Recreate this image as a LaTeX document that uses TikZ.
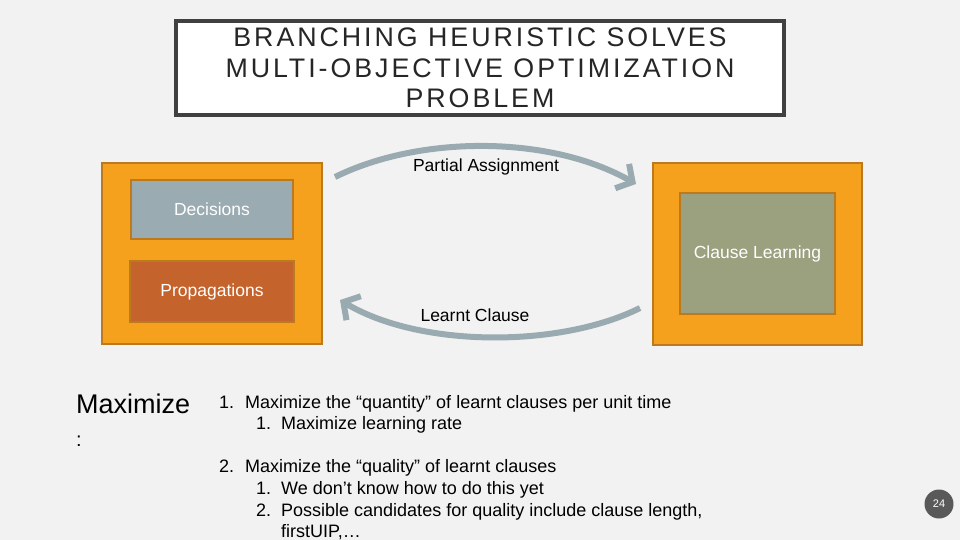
\documentclass[tikz,border=0pt]{standalone}
\usepackage{fontspec}
\setmainfont{Liberation Sans}
\newfontfamily\titlefont[LetterSpace=11]{Liberation Sans}
\usetikzlibrary{arrows.meta}
\definecolor{bgc}{HTML}{F2F2F2}
\definecolor{orangec}{HTML}{F5A11D}
\definecolor{orangeb}{HTML}{BC7A1E}
\definecolor{decc}{HTML}{9AABB2}
\definecolor{propc}{HTML}{C5632C}
\definecolor{clc}{HTML}{9BA07F}
\definecolor{arrowc}{HTML}{9AAAB1}
\definecolor{titleb}{HTML}{404040}
\definecolor{pgc}{HTML}{595959}
\tikzset{
  outerbox/.style={draw=orangeb, line width=1.6pt, fill=orangec, inner sep=0pt},
  innerbox/.style={draw=orangeb, line width=1.6pt, inner sep=0pt, text=white,
    font=\fontsize{17.5}{20}\selectfont},
  flow/.style={draw=arrowc, line width=6pt, -{Straight Barb[length=12pt,width=28pt]}},
  lbl/.style={inner sep=0pt, font=\fontsize{17.5}{20}\selectfont, text=black},
  lst/.style={inner sep=0pt, anchor=base west, font=\fontsize{18}{21}\selectfont, text=black},
}
\begin{document}
\begin{tikzpicture}[x=1pt,y=-1pt]
\fill[bgc] (0,0) rectangle (960,540);
\useasboundingbox (0,0) rectangle (960,540);

% title
\node[draw=titleb, line width=4pt, fill=white, minimum width=608pt, minimum height=94pt,
  inner sep=0pt, align=center, font=\titlefont\fontsize{26.8}{30.5}\selectfont, text=black!85]
  (title) at (480,68) {BRANCHING HEURISTIC SOLVES\\MULTI-OBJECTIVE OPTIMIZATION\\PROBLEM};

% left block
\node[outerbox, minimum width=220pt, minimum height=181pt] (left) at (212,253.5) {};
\node[innerbox, fill=decc, minimum width=162pt, minimum height=59pt] (dec) at (212,209.5) {Decisions};
\node[innerbox, fill=propc, minimum width=164pt, minimum height=61pt] (prop) at (212,291.5) {Propagations};

% right block
\node[outerbox, minimum width=209pt, minimum height=182pt] (right) at (757.5,254) {};
\node[innerbox, fill=clc, minimum width=155pt, minimum height=121pt] (cl) at (757.5,253.5) {Clause Learning};

% arrows
\coordinate (pas) at (335,177);
\coordinate (pae) at (636,184);
\draw[flow] (pas) .. controls (420,135) and (550,135) .. (pae);
\node[lbl] (palbl) at (486,167) {Partial Assignment};

\coordinate (lcs) at (640,308);
\coordinate (lce) at (340,300);
\draw[flow] (lcs) .. controls (560,348) and (420,348) .. (lce);
\node[lbl] (lclbl) at (475,315) {Learnt Clause};

% maximize
\node[inner sep=0pt, anchor=base west, font=\fontsize{27}{30}\selectfont] (maxw) at (76,413) {Maximize};
\node[inner sep=0pt, anchor=base west, font=\fontsize{20}{22}\selectfont] (colon) at (76,446) {:};

% list
\node[lst] (n1) at (219,408) {1.};
\node[lst] (t1) at (245,408) {Maximize the “quantity” of learnt clauses per unit time};
\node[lst] (n11) at (256,429) {1.};
\node[lst] (t11) at (281,429) {Maximize learning rate};
\node[lst] (n2) at (219,472) {2.};
\node[lst] (t2) at (245,472) {Maximize the “quality” of learnt clauses};
\node[lst] (n21) at (256,494) {1.};
\node[lst] (t21) at (281,494) {We don’t know how to do this yet};
\node[lst] (n22) at (256,516) {2.};
\node[lst] (t22) at (281,516) {Possible candidates for quality include clause length,};
\node[lst] (t22b) at (281,537) {firstUIP,…};

% page number
\node[circle, fill=pgc, minimum size=29pt, inner sep=0pt, text=white,
  font=\fontsize{11}{11}\selectfont] (pg) at (939,504) {24};
\end{tikzpicture}
\end{document}
